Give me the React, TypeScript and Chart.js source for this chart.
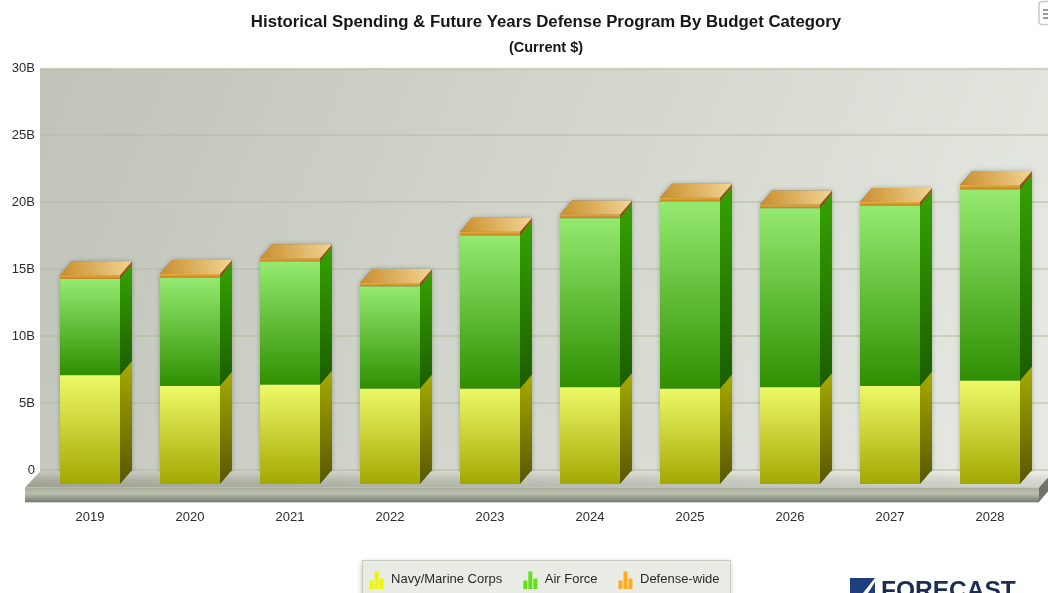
import React, { useEffect, useRef } from "react";
import { Chart, registerables } from "chart.js";

Chart.register(...registerables);

const years = ["2019", "2020", "2021", "2022", "2023", "2024", "2025", "2026", "2027", "2028"];
const navyMarine = [8.2, 7.4, 7.5, 7.2, 7.2, 7.3, 7.2, 7.3, 7.4, 7.8];
const airForce = [7.19, 8.08, 9.2, 7.64, 11.44, 12.64, 13.98, 13.38, 13.46, 14.28];
const defenseWide = [0.28, 0.28, 0.25, 0.25, 0.28, 0.28, 0.28, 0.28, 0.28, 0.34];
const titleText = "Historical Spending & Future Years Defense Program By Budget Category";
const subtitleText = "(Current $)";

const FONT = "'Liberation Sans', Arial, sans-serif";
const DX = 12;
const DY = 14;
const BASE_SHIFT = 15;

const faces = [
  { front: ["#edf968", "#a2a700"], side: ["#a6ab00", "#565600"], icon: "#f2f500" },
  { front: ["#95ea70", "#2f8f00"], side: ["#35a300", "#1b5c00"], icon: "#62e01c" },
  { front: ["#eaaa3e", "#bf8222"], side: ["#a06a14", "#7a4e0c"], icon: "#ffab1c" },
];

function makeIcon(color: string) {
  const c = document.createElement("canvas");
  c.width = 16;
  c.height = 18;
  const g = c.getContext("2d")!;
  g.fillStyle = color;
  g.fillRect(1, 10, 4, 8);
  g.fillRect(6, 1, 4, 17);
  g.fillRect(11, 8, 4, 10);
  return c;
}

function frontFill(index: number) {
  return (c: any) => {
    const chart = c.chart;
    const y = chart.scales.y;
    if (c.dataIndex === undefined || !y) return faces[index].front[0];
    let low = 0;
    for (let i = 0; i < index; i++) low += chart.data.datasets[i].data[c.dataIndex];
    const high = low + chart.data.datasets[index].data[c.dataIndex];
    const g = chart.ctx.createLinearGradient(0, y.getPixelForValue(high), 0, y.getPixelForValue(low));
    g.addColorStop(0, faces[index].front[0]);
    g.addColorStop(1, faces[index].front[1]);
    return g;
  };
}

const scenery = {
  id: "scenery",
  afterLayout(chart: any) {
    chart.chartArea.right = 1048;
    chart.boxes.forEach((b: any) => {
      if (b.position === "top") {
        b.left += 52;
      }
      if (b.position === "bottom" && b.legendHitBoxes) {
        b.left += 48;
        b.top += 3;
        b.bottom += 3;
      }
    });
  },
  beforeDraw(chart: any) {
    const { ctx, chartArea: a } = chart;
    ctx.save();
    const wall = ctx.createLinearGradient(40, 68, 1048, 470);
    wall.addColorStop(0, "#bfc3b9");
    wall.addColorStop(1, "#e7eae2");
    ctx.fillStyle = wall;
    ctx.fillRect(40, a.top, 1008, a.bottom - a.top + 2);
    ctx.fillStyle = "#f0f0ee";
    ctx.fillRect(40, a.top - 1, 1008, 1);

    ctx.shadowColor = "rgba(0,0,0,0.28)";
    ctx.shadowBlur = 5;
    ctx.shadowOffsetY = 2;
    ctx.fillStyle = "#e9ece4";
    ctx.fillRect(362, 560, 368, 40);
    ctx.shadowColor = "transparent";
    ctx.strokeStyle = "#c9ccc0";
    ctx.strokeRect(362.5, 560.5, 368, 40);

    ctx.strokeStyle = "#c8c8c8";
    ctx.lineWidth = 1.5;
    ctx.beginPath();
    ctx.roundRect(1039, 1.5, 20, 23, 3);
    ctx.stroke();
    ctx.fillStyle = "#9a9a9a";
    [9, 13, 17].forEach((yy) => ctx.fillRect(1043, yy, 5, 2));

    ctx.fillStyle = "#1f3e7c";
    ctx.fillRect(850, 578, 25, 15);
    ctx.fillStyle = "#fff";
    ctx.beginPath();
    ctx.moveTo(863, 593);
    ctx.lineTo(875, 578);
    ctx.lineTo(875, 582);
    ctx.lineTo(868, 593);
    ctx.fill();
    ctx.fillStyle = "#1d2d52";
    ctx.font = `bold 24.5px ${FONT}`;
    ctx.textBaseline = "alphabetic";
    ctx.fillText("FORECAST", 881, 598);
    ctx.restore();
  },
  beforeDatasetsDraw(chart: any) {
    const { ctx, chartArea: a, scales } = chart;
    const back = a.bottom + 1.5;
    const front = a.bottom + 17.5;
    const lipBottom = 502;
    ctx.save();
    const top = chart.getDatasetMeta(chart.data.datasets.length - 1);
    const zero = scales.y.getPixelForValue(0) + BASE_SHIFT;
    ctx.shadowColor = "rgba(0,0,0,0.26)";
    ctx.shadowBlur = 5;
    ctx.fillStyle = "#777";
    top.data.forEach((el: any) => {
      const l = el.x - el.width / 2;
      const r = el.x + el.width / 2;
      const t = el.y + BASE_SHIFT;
      ctx.beginPath();
      ctx.moveTo(l, t);
      ctx.lineTo(l + DX, t - DY);
      ctx.lineTo(r + DX, t - DY);
      ctx.lineTo(r + DX, zero - DY);
      ctx.lineTo(r, zero);
      ctx.lineTo(l, zero);
      ctx.closePath();
      ctx.fill();
    });
    ctx.shadowColor = "transparent";

    const deck = ctx.createLinearGradient(25, 0, 1040, 0);
    deck.addColorStop(0, "#adb0a0");
    deck.addColorStop(1, "#e6e9e1");
    ctx.fillStyle = deck;
    ctx.beginPath();
    ctx.moveTo(40, back);
    ctx.lineTo(1060, back);
    ctx.lineTo(1039, front);
    ctx.lineTo(25, front);
    ctx.closePath();
    ctx.fill();
    const deckShade = ctx.createLinearGradient(0, back, 0, front);
    deckShade.addColorStop(0, "rgba(255,255,255,0.3)");
    deckShade.addColorStop(1, "rgba(70,75,60,0.14)");
    ctx.fillStyle = deckShade;
    ctx.fill();
    const lip = ctx.createLinearGradient(0, front, 0, lipBottom);
    lip.addColorStop(0, "#a4a899");
    lip.addColorStop(0.4, "#bdc1af");
    lip.addColorStop(1, "#757a6e");
    ctx.fillStyle = lip;
    ctx.fillRect(25, front, 1014, lipBottom - front);
    ctx.fillStyle = "#6f7469";
    ctx.beginPath();
    ctx.moveTo(1039, front);
    ctx.lineTo(1050, front - 12);
    ctx.lineTo(1050, lipBottom - 13);
    ctx.lineTo(1039, lipBottom);
    ctx.closePath();
    ctx.fill();
    ctx.fillStyle = "#d4d7cc";
    ctx.fillRect(25, lipBottom, 1014, 1);
    ctx.restore();
  },
  beforeDatasetDraw(chart: any, args: any) {
    const { ctx } = chart;
    const idx = args.index;
    const meta = chart.getDatasetMeta(idx);
    ctx.save();
    meta.data.forEach((el: any) => {
      const r = el.x + el.width / 2;
      const t = el.y + BASE_SHIFT;
      const b = el.base + BASE_SHIFT;
      const g = ctx.createLinearGradient(0, t - DY, 0, b);
      g.addColorStop(0, faces[idx].side[0]);
      g.addColorStop(1, faces[idx].side[1]);
      ctx.fillStyle = g;
      ctx.beginPath();
      ctx.moveTo(r, t);
      ctx.lineTo(r + DX, t - DY);
      ctx.lineTo(r + DX, b - DY);
      ctx.lineTo(r, b);
      ctx.closePath();
      ctx.fill();
      if (idx === chart.data.datasets.length - 1) {
        const l = el.x - el.width / 2;
        const lid = ctx.createLinearGradient(l, t, r + DX, t - DY);
        lid.addColorStop(0, "#c98d2c");
        lid.addColorStop(1, "#f2d594");
        ctx.fillStyle = lid;
        ctx.beginPath();
        ctx.moveTo(l, t);
        ctx.lineTo(l + DX, t - DY);
        ctx.lineTo(r + DX, t - DY);
        ctx.lineTo(r, t);
        ctx.closePath();
        ctx.fill();
      }
    });
    ctx.restore();
    ctx.save();
    ctx.translate(0, BASE_SHIFT);
  },
  afterDatasetDraw(chart: any) {
    chart.ctx.restore();
  },
};

export default function App() {
  const ref = useRef<HTMLCanvasElement>(null);
  useEffect(() => {
    const labelsOf = [navyMarine, airForce, defenseWide];
    const names = ["Navy/Marine Corps", "Air Force", "Defense-wide"];
    const chart = new Chart(ref.current!, {
      type: "bar",
      data: {
        labels: years,
        datasets: labelsOf.map((data, i) => ({
          label: names[i],
          data,
          backgroundColor: frontFill(i),
          borderWidth: 0,
          clip: false as any,
          barPercentage: 0.6,
          categoryPercentage: 1,
          stack: "all",
        })),
      },
      options: {
        animation: false,
        responsive: false,
        layout: { padding: { right: 8 } },
        scales: {
          x: {
            stacked: true,
            grid: { display: false },
            border: { display: false },
            afterFit(s: any) {
              s.height = 80;
            },
            ticks: {
              padding: 32,
              color: "#2a2a2a",
              maxRotation: 0,
              font: { family: FONT, size: 13 },
            },
          },
          y: {
            stacked: true,
            min: 0,
            max: 30,
            border: { display: false },
            grid: { color: "rgba(176,190,155,0.5)", lineWidth: 2, drawTicks: false },
            afterFit(s: any) {
              s.width = 40;
            },
            ticks: {
              stepSize: 5,
              padding: 5,
              color: "#2a2a2a",
              font: { family: FONT, size: 13 },
              callback: (v: any) => (v === 0 ? "0" : `${v}B`),
            },
          },
        },
        plugins: {
          title: {
            display: true,
            text: titleText,
            color: "#161616",
            font: { family: FONT, size: 16.8, weight: "bold" },
            padding: { top: 12, bottom: 2 },
          },
          subtitle: {
            display: true,
            text: subtitleText,
            color: "#161616",
            font: { family: FONT, size: 14.5, weight: "bold" },
            padding: { top: 5, bottom: 12 },
          },
          legend: {
            display: true,
            position: "bottom",
            labels: {
              usePointStyle: true,
              pointStyleWidth: 16,
              padding: 20,
              color: "#2a2a2a",
              font: { family: FONT, size: 13 },
              generateLabels: () =>
                names.map((text, i) => ({
                  text,
                  datasetIndex: i,
                  fontColor: "#2a2a2a",
                  fillStyle: faces[i].icon,
                  strokeStyle: faces[i].icon,
                  lineWidth: 0,
                  pointStyle: makeIcon(faces[i].icon),
                })),
            },
          },
          tooltip: { enabled: false },
        },
      } as any,
      plugins: [scenery],
    });
    return () => chart.destroy();
  }, []);
  return (
    <div style={{ position: "fixed", left: 0, top: 0, width: 1048, height: 593, overflow: "hidden", background: "#fff" }}>
      <canvas ref={ref} width={1048} height={593} style={{ display: "block" }} />
    </div>
  );
}
